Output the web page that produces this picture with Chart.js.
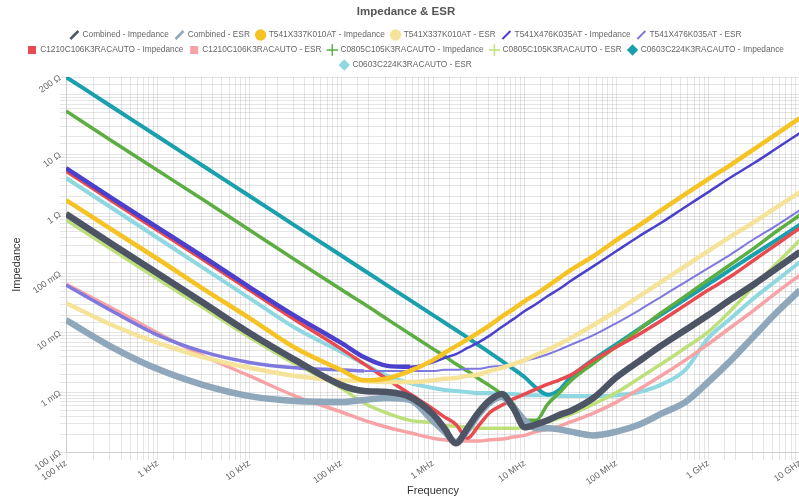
<!DOCTYPE html>
<html>
<head>
<meta charset="utf-8">
<script src="https://cdn.jsdelivr.net/npm/chart.js@4.4.1/dist/chart.umd.min.js"></script>
<style>
  html, body { margin: 0; padding: 0; background: #fff; overflow: hidden; }
  #wrap { width: 799px; height: 502px; overflow: hidden; }
  canvas { display: block; }
</style>
</head>
<body>
<div id="wrap"><canvas id="chart" width="812" height="502"></canvas></div>
<script>
// Sweep frequencies (Hz)
const FREQ_HZ = [100, 316, 1e3, 3.16e3, 1e4, 3.16e4, 1e5, 1.78e5, 3.16e5, 5.62e5,
  1e6, 1.33e6, 1.78e6, 2.37e6, 3.16e6, 4.22e6, 5.62e6, 7.5e6, 1e7, 1.33e7,
  1.78e7, 2.37e7, 3.16e7, 5.62e7, 1e8, 1.78e8, 3.16e8, 5.62e8, 1e9, 1.78e9,
  3.16e9, 5.62e9, 1e10];

// Impedance / ESR per part (Ohm), one value per sweep frequency
const COMBINED_Z = [1.0, 0.312, 0.1, 0.0318, 0.01, 0.0035, 0.00133, 0.00106, 0.00102, 0.00084,
  0.00043, 0.00025, 0.00014, 0.00025, 0.00047, 0.00075, 0.00094, 0.00055, 0.00026, 0.00029,
  0.00034, 0.00042, 0.00049, 0.00081, 0.0018, 0.0034, 0.0063, 0.0112, 0.02, 0.037,
  0.066, 0.123, 0.23];
const COMBINED_ESR = [0.0165, 0.0058, 0.00247, 0.00133, 0.00087, 0.00072, 0.00069, 0.00075, 0.00081, 0.00075,
  0.00033, 0.00022, 0.000147, 0.00023, 0.00043, 0.00069, 0.00084, 0.00057, 0.00034, 0.00025,
  0.00025, 0.00024, 0.00022, 0.00019, 0.00022, 0.00029, 0.00045, 0.00069, 0.0015, 0.0035,
  0.0089, 0.0225, 0.0526];
const T337_Z = [1.71, 0.543, 0.175, 0.0547, 0.0178, 0.00558, 0.00238, 0.0016, 0.00172, 0.0023,
  0.0035, 0.0046, 0.006, 0.0078, 0.0102, 0.0137, 0.0188, 0.0252, 0.0344, 0.0451,
  0.0614, 0.0837, 0.114, 0.196, 0.364, 0.651, 1.19, 2.16, 3.86, 6.77,
  12.3, 22.4, 40.9];
const T337_ESR = [0.0318, 0.0136, 0.0068, 0.0039, 0.0026, 0.0019, 0.0016, 0.00156, 0.0015, 0.0015,
  0.0016, 0.0017, 0.00175, 0.0019, 0.002, 0.0023, 0.0026, 0.003, 0.0035, 0.0043,
  0.0052, 0.0065, 0.0082, 0.0136, 0.0234, 0.0417, 0.0746, 0.133, 0.238, 0.425,
  0.731, 1.31, 2.33];
const T476_Z = [5.91, 1.85, 0.591, 0.189, 0.0591, 0.0192, 0.0068, 0.0039, 0.0028, 0.0027,
  0.0032, 0.0038, 0.0044, 0.0056, 0.007, 0.0092, 0.0126, 0.0171, 0.0234, 0.0306,
  0.0417, 0.0547, 0.0746, 0.133, 0.238, 0.425, 0.731, 1.31, 2.33, 4.17,
  7.17, 12.8, 22.9];
const T476_ESR = [0.0639, 0.0234, 0.0092, 0.0048, 0.0032, 0.0026, 0.0024, 0.0023, 0.0023, 0.0023,
  0.0023, 0.0024, 0.0024, 0.0025, 0.0025, 0.0027, 0.0028, 0.003, 0.0034, 0.0038,
  0.0044, 0.0052, 0.0063, 0.0092, 0.0147, 0.0243, 0.0417, 0.0717, 0.123, 0.212,
  0.379, 0.651, 1.16];
const C1210_Z = [5.26, 1.65, 0.526, 0.168, 0.0526, 0.0165, 0.0054, 0.003, 0.00168, 0.00094,
  0.00053, 0.00039, 0.00029, 0.00017, 0.00028, 0.00047, 0.00061, 0.00078, 0.00094, 0.00114,
  0.00138, 0.00162, 0.00196, 0.0035, 0.0058, 0.0096, 0.0165, 0.0294, 0.0526, 0.0904,
  0.168, 0.312, 0.58];
const C1210_ESR = [0.0664, 0.0262, 0.01, 0.0041, 0.0019, 0.00087, 0.00047, 0.00034, 0.00026, 0.00021,
  0.00017, 0.00016, 0.000153, 0.000153, 0.000153, 0.00016, 0.000165, 0.000178, 0.00019, 0.00022,
  0.00024, 0.00027, 0.00032, 0.00045, 0.00069, 0.00114, 0.00196, 0.0035, 0.0065, 0.0126,
  0.0243, 0.0487, 0.094];
const C0805_Z = [53.7, 16.8, 5.36, 1.71, 0.536, 0.168, 0.0536, 0.0306, 0.0171, 0.0096,
  0.0054, 0.0041, 0.003, 0.0023, 0.0017, 0.00128, 0.00094, 0.00064, 0.00034, 0.00034,
  0.00064, 0.00098, 0.00156, 0.0031, 0.006, 0.0116, 0.0225, 0.0417, 0.0775, 0.144,
  0.267, 0.516, 0.958];
const C0805_ESR = [0.79, 0.252, 0.0805, 0.0262, 0.0085, 0.003, 0.00119, 0.00066, 0.00045, 0.00034,
  0.00031, 0.00028, 0.00027, 0.00026, 0.00025, 0.00025, 0.00025, 0.00025, 0.00026, 0.00028,
  0.00032, 0.00037, 0.00043, 0.00064, 0.001, 0.00175, 0.0031, 0.0056, 0.0104, 0.0243,
  0.0614, 0.15, 0.364];
const C0603_Z = [200, 63.2, 20, 6.32, 2, 0.632, 0.2, 0.112, 0.0632, 0.0356,
  0.02, 0.015, 0.0112, 0.0084, 0.0062, 0.0046, 0.0034, 0.0025, 0.0018, 0.0012,
  0.00092, 0.0011, 0.0018, 0.0036, 0.0065, 0.0118, 0.021, 0.037, 0.066, 0.118,
  0.21, 0.37, 0.66];
const C0603_ESR = [4.01, 1.26, 0.394, 0.123, 0.0386, 0.0121, 0.0048, 0.003, 0.0019, 0.00144,
  0.00119, 0.0011, 0.00106, 0.00102, 0.00098, 0.00098, 0.00094, 0.00094, 0.0009, 0.0009,
  0.0009, 0.00087, 0.00087, 0.00087, 0.0009, 0.00102, 0.00138, 0.0024, 0.0082, 0.0178,
  0.0386, 0.0775, 0.156];

// Axis tick labels
const FREQ_TICK_VALUES = [1e2, 1e3, 1e4, 1e5, 1e6, 1e7, 1e8, 1e9, 1e10];
const FREQ_TICK_LABELS = ['100 Hz', '1 kHz', '10 kHz', '100 kHz', '1 MHz', '10 MHz', '100 MHz', '1 GHz', '10 GHz'];
const Z_TICK_VALUES = [1e-4, 1e-3, 1e-2, 1e-1, 1, 10, 200];
const Z_TICK_LABELS = ['100 µΩ', '1 mΩ', '10 mΩ', '100 mΩ', '1 Ω', '10 Ω', '200 Ω'];

const FONT = "'Liberation Sans', Arial, sans-serif";
Chart.defaults.font.family = FONT;

function pairs(values) {
  return FREQ_HZ.map((f, i) => ({ x: f, y: values[i] }));
}

function series(label, values, color, width, style, markerWidth, extra) {
  return Object.assign({
    label,
    data: pairs(values),
    borderColor: color,
    backgroundColor: color,
    borderWidth: width,
    pointRadius: 0,
    pointHoverRadius: 0,
    pointStyle: style,
    pointRotation: style === 'line' ? -45 : 0,
    pointBackgroundColor: color,
    pointBorderColor: color,
    pointBorderWidth: markerWidth,
    cubicInterpolationMode: 'monotone',
    fill: false
  }, extra || {});
}

// Slanted markers make the falling part of a trace look heavier than the rising part
function slopeWidth(falling, rising) {
  return { segment: { borderWidth: (ctx) => (ctx.p1.parsed.y < ctx.p0.parsed.y ? falling : rising) } };
}

function labelFor(value, values, labels) {
  const lv = Math.log10(value);
  for (let i = 0; i < values.length; i++) {
    if (Math.abs(Math.log10(values[i]) - lv) < 1e-6) return labels[i];
  }
  return '';
}

// Pin the legend block so the plot area starts right under it
const legendHeight = {
  id: 'legendHeight',
  beforeInit(chart) {
    const legend = chart.legend;
    if (!legend) return;
    const fit = legend.fit;
    legend.fit = function () {
      fit.call(this);
      this.height = 52.85;
    };
  }
};

new Chart(document.getElementById('chart'), {
  type: 'line',
  data: {
    datasets: [
      series('Combined - Impedance', COMBINED_Z, '#4d5565', 6.5, 'line', 2.5),
      series('Combined - ESR', COMBINED_ESR, '#8fa7bb', 6.5, 'line', 2.5),
      series('T541X337K010AT - Impedance', T337_Z, '#f6c324', 4.5, 'circle', 0),
      series('T541X337K010AT - ESR', T337_ESR, '#f6e39a', 4.5, 'circle', 0),
      series('T541X476K035AT - Impedance', T476_Z, '#4a40cc', 3, 'line', 2, slopeWidth(4.5, 2.5)),
      series('T541X476K035AT - ESR', T476_ESR, '#7f78de', 2.5, 'line', 2, slopeWidth(3.5, 2)),
      series('C1210C106K3RACAUTO - Impedance', C1210_Z, '#e84a4f', 3.5, 'rect', 0),
      series('C1210C106K3RACAUTO - ESR', C1210_ESR, '#f7a3a6', 3.5, 'rect', 0),
      series('C0805C105K3RACAUTO - Impedance', C0805_Z, '#5cae42', 3.5, 'cross', 1.5),
      series('C0805C105K3RACAUTO - ESR', C0805_ESR, '#bde07a', 3.5, 'cross', 1.5),
      series('C0603C224K3RACAUTO - Impedance', C0603_Z, '#1aa0ad', 4, 'rectRot', 0),
      series('C0603C224K3RACAUTO - ESR', C0603_ESR, '#8fd8e2', 4, 'rectRot', 0)
    ]
  },
  options: {
    responsive: false,
    animation: false,
    events: [],
    layout: { padding: 0 },
    plugins: {
      title: {
        display: true,
        text: 'Impedance & ESR',
        color: '#555',
        font: { size: 11.5, weight: 'bold', family: FONT },
        padding: { top: 5, bottom: 5.35 }
      },
      legend: {
        position: 'top',
        labels: {
          usePointStyle: true,
          boxWidth: 8,
          boxHeight: 8,
          padding: 6.7,
          color: '#666',
          font: { size: 8.3, family: FONT }
        }
      },
      tooltip: { enabled: false }
    },
    scales: {
      x: {
        type: 'logarithmic',
        position: 'bottom',
        min: 100,
        max: 1e10,
        title: {
          display: true,
          text: 'Frequency',
          color: '#333',
          font: { size: 11, family: FONT },
          padding: { top: 2, bottom: 4 }
        },
        ticks: {
          autoSkip: false,
          minRotation: 35,
          maxRotation: 35,
          padding: -2,
          color: '#666',
          font: { size: 9, family: FONT },
          callback: (v) => labelFor(v, FREQ_TICK_VALUES, FREQ_TICK_LABELS)
        },
        grid: { color: 'rgba(0,0,0,0.1)', tickLength: 8 },
        afterFit(scale) {
          scale.height = 50;
          scale.paddingLeft = 0;
          scale.paddingRight = 12;
        }
      },
      y: {
        type: 'logarithmic',
        position: 'left',
        min: 1e-4,
        max: 200,
        title: {
          display: true,
          text: 'Impedance',
          color: '#333',
          font: { size: 11, family: FONT },
          padding: { top: 10, bottom: 0 }
        },
        ticks: {
          autoSkip: false,
          minRotation: 35,
          maxRotation: 35,
          padding: 0,
          color: '#666',
          font: { size: 9, family: FONT },
          callback: (v) => labelFor(v, Z_TICK_VALUES, Z_TICK_LABELS)
        },
        grid: { color: 'rgba(0,0,0,0.1)', tickLength: 6 },
        afterFit(scale) {
          scale.width = 66;
          scale.paddingTop = 0;
          scale.paddingBottom = 0;
        }
      }
    }
  },
  plugins: [legendHeight]
});
</script>
</body>
</html>
